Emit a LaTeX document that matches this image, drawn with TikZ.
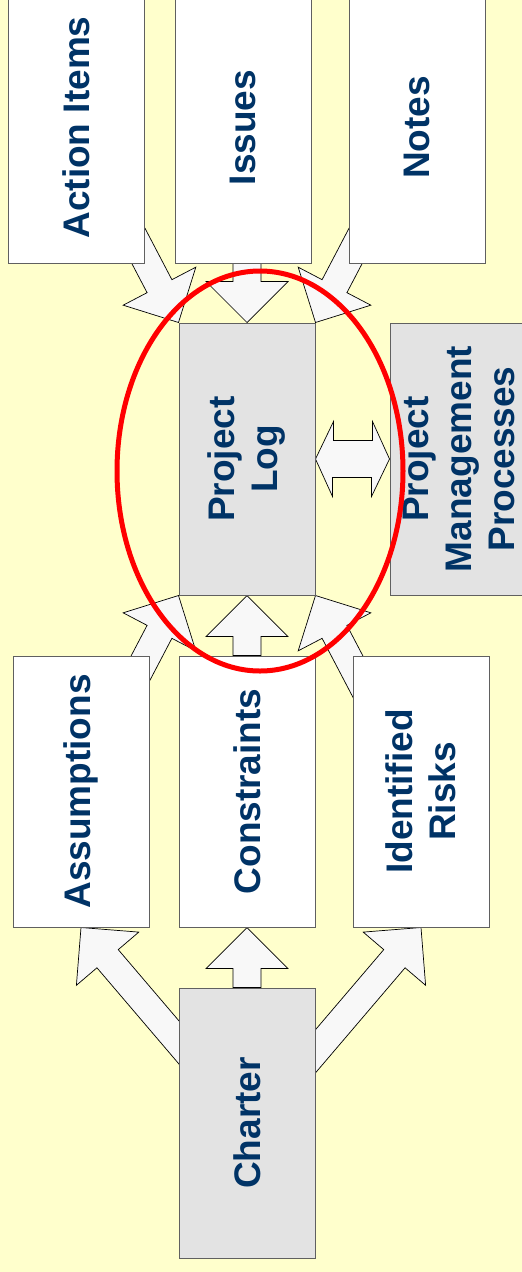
\documentclass[tikz,border=0pt]{standalone}
\usepackage{fontspec}
\setmainfont{Liberation Sans}
\usetikzlibrary{calc, backgrounds}

\definecolor{paper}{RGB}{255,255,204}
\definecolor{boxgray}{RGB}{227,227,227}
\definecolor{boxline}{RGB}{96,96,96}
\definecolor{arrowfill}{RGB}{248,248,248}
\definecolor{textblue}{RGB}{0,51,102}

% block arrow from tail #1 to tip #2
\newcommand{\blockarrow}[2]{%
  \coordinate (bh) at ($(#2)!41pt!(#1)$);
  \draw[arrowbox] ($(#1)!14pt!90:(#2)$) -- ($(bh)!14pt!-90:(#1)$)
    -- ($(bh)!41pt!-90:(#1)$) -- (#2) -- ($(bh)!41pt!90:(#1)$)
    -- ($(bh)!14pt!90:(#1)$) -- ($(#1)!14pt!-90:(#2)$) -- cycle;}

\begin{document}
\begin{tikzpicture}[x=1pt, y=-1pt,
  box/.style={draw=boxline, line width=1pt, fill=white, minimum width=136pt, minimum height=271pt, inner sep=0pt},
  logbox/.style={box, fill=boxgray},
  boxtext/.style={rotate=90, align=center, text=textblue, font=\bfseries\fontsize{37}{43}\selectfont},
  arrowbox/.style={draw=black, line width=0.7pt, fill=arrowfill, line join=miter}]
\useasboundingbox (0,0) rectangle (522,1272);
\begin{scope}[on background layer]
\fill[paper] (0,0) rectangle (522,1272);
\end{scope}
\clip (0,0) rectangle (522,1272);

% inputs on top
\node[box, label={[boxtext]center:Action Items}] (action) at (76.5,127.5) {};
\node[box, label={[boxtext]center:Issues}] (issues) at (243,127.5) {};
\node[box, label={[boxtext]center:Notes}] (notes) at (417,127.5) {};

% the log and the processes
\node[logbox, minimum height=272pt, label={[boxtext]center:Project\\Log}] (log) at (247,459) {};
\node[logbox, minimum height=272pt, label={[boxtext]center:Project\\Management\\Processes}] (pmp) at (458,459) {};

% what comes out of the charter
\node[box, label={[boxtext]center:Assumptions}] (assumptions) at (81,791.5) {};
\node[box, label={[boxtext]center:Constraints}] (constraints) at (247,791.5) {};
\node[box, label={[boxtext]center:Identified\\Risks}] (risks) at (421,791.5) {};
\node[logbox, minimum height=270pt, label={[boxtext]center:Charter}] (charter) at (247,1123) {};

% block arrows, behind the boxes
\begin{scope}[on background layer]
\coordinate (actiontail) at (128,226);
\coordinate (notestail) at (366,226);
\coordinate (assumtail) at (128,692);
\coordinate (riskstail) at (366,692);
\coordinate (charterleft) at (211,1080);
\coordinate (charterright) at (291,1080);
\coordinate (issuestail) at (log.north |- issues.south);
\coordinate (constrtail) at (log.south |- constraints.north);
\coordinate (chartertop) at (constraints.south |- charter.north);
\blockarrow{actiontail}{log.north west}
\blockarrow{issuestail}{log.north}
\blockarrow{notestail}{log.north east}
\blockarrow{assumtail}{log.south west}
\blockarrow{constrtail}{log.south}
\blockarrow{riskstail}{log.south east}
\blockarrow{charterleft}{assumptions.south}
\blockarrow{chartertop}{constraints.south}
\blockarrow{charterright}{risks.south}
\draw[arrowbox] (log.east) -- ++(18,-37.5) -- ++(0,19) -- ++(39,0) -- ++(0,-19) -- (pmp.west)
  -- ++(-18,37.5) -- ++(0,-19) -- ++(-39,0) -- ++(0,19) -- cycle;
\end{scope}

% the red ring round the log
\draw[red, line width=5pt] (260,471) ellipse [x radius=143pt, y radius=200pt];
\end{tikzpicture}
\end{document}
